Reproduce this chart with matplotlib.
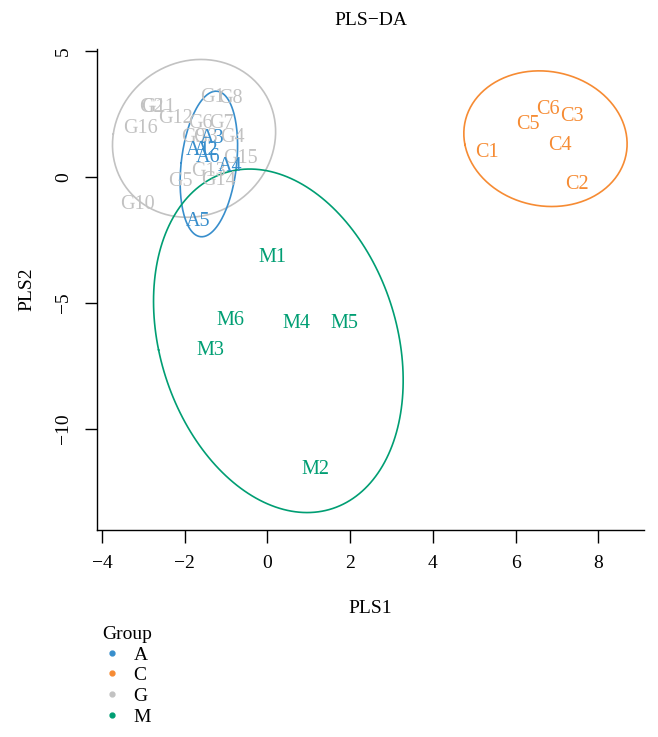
import numpy as np
import matplotlib
matplotlib.use("Agg")
import matplotlib.pyplot as plt
from matplotlib.lines import Line2D

plt.rcParams['font.family'] = ['Liberation Serif', 'DejaVu Serif']

# sample scores (PLS1, PLS2)
a_names = ["A1", "A2", "A3", "A4", "A5", "A6"]
a_x = [-1.67, -1.47, -1.35, -0.90, -1.67, -1.43]
a_y = [1.07, 1.07, 1.54, 0.41, -1.77, 0.78]

c_names = ["C1", "C2", "C3", "C4", "C5", "C6"]
c_x = [5.32, 7.49, 7.35, 7.08, 6.31, 6.79]
c_y = [0.99, -0.28, 2.42, 1.23, 2.10, 2.66]

g_names = ["G1", "G2", "G3", "G4", "G5", "G6", "G7", "G8",
           "G9", "G10", "G11", "G12", "G13", "G14", "G15", "G16"]
g_x = [-1.32, -2.81, -1.51, -0.85, -2.11, -1.63, -1.10, -0.90,
       -1.80, -3.13, -2.64, -2.21, -1.43, -1.19, -0.66, -3.08]
g_y = [3.17, 2.74, 1.55, 1.55, -0.16, 2.14, 2.14, 3.10,
       1.55, -1.11, 2.74, 2.34, 0.20, -0.12, 0.75, 1.94]

m_names = ["M1", "M2", "M3", "M4", "M5", "M6"]
m_x = [0.13, 1.17, -1.37, 0.70, 1.86, -0.90]
m_y = [-3.19, -11.61, -6.89, -5.81, -5.81, -5.71]

groups = ["A", "C", "G", "M"]
colors = ["#388ECC", "#F68B33", "#C2C2C2", "#009E73"]


def conf_ellipse(x, y, level_r=2.4477, n=200):
    # 95% normal confidence ellipse (chi-square, 2 df)
    pts = np.column_stack([x, y])
    mu = pts.mean(axis=0)
    cov = np.cov(pts, rowvar=False)
    vals, vecs = np.linalg.eigh(cov)
    t = np.linspace(0, 2 * np.pi, n)
    circ = np.column_stack([np.cos(t), np.sin(t)]) * np.sqrt(vals) * level_r
    e = circ @ vecs.T + mu
    return e[:, 0], e[:, 1]


fig = plt.figure(figsize=(6.58, 7.37), dpi=100)
ax = fig.add_axes([0.1474, 0.281, 0.8316, 0.6525])

data = [(a_names, a_x, a_y), (c_names, c_x, c_y),
        (g_names, g_x, g_y), (m_names, m_x, m_y)]

# draw grey group first so the others sit on top
for idx in [2, 0, 1, 3]:
    names, xs, ys = data[idx]
    ex, ey = conf_ellipse(xs, ys)
    ax.plot(ex, ey, color=colors[idx], lw=1.2)
    for nm, xv, yv in zip(names, xs, ys):
        ax.text(xv, yv, nm, color=colors[idx], fontsize=14.5,
                ha="center", va="center")

ax.set_xlim(-4.12, 9.11)
ax.set_ylim(-14.01, 5.08)
ax.set_xticks([-4, -2, 0, 2, 4, 6, 8])
ax.set_yticks([-10, -5, 0, 5])
ax.set_xticklabels(["\u22124", "\u22122", "0", "2", "4", "6", "8"])
ax.set_yticklabels(["\u221210", "\u22125", "0", "5"], rotation=90, va="center")
ax.tick_params(labelsize=14, length=9, width=1, pad=9, color="black")
for s in ["top", "right"]:
    ax.spines[s].set_visible(False)
for s in ["left", "bottom"]:
    ax.spines[s].set_linewidth(1)

ax.set_xlabel("PLS1", fontsize=14, labelpad=20)
ax.set_ylabel("PLS2", fontsize=14, labelpad=14)
ax.set_title("PLS\u2212DA", fontsize=14, pad=17)

handles = [Line2D([], [], marker="o", ls="", color=c, markersize=3.5) for c in colors]
fig.legend(handles, groups, title="Group", loc="upper left",
           bbox_to_anchor=(0.14, 0.164), frameon=False, fontsize=14,
           title_fontsize=14, handletextpad=0.6, labelspacing=0.16,
           borderpad=0, handlelength=1.0)

fig.savefig("out.png", dpi=100)
